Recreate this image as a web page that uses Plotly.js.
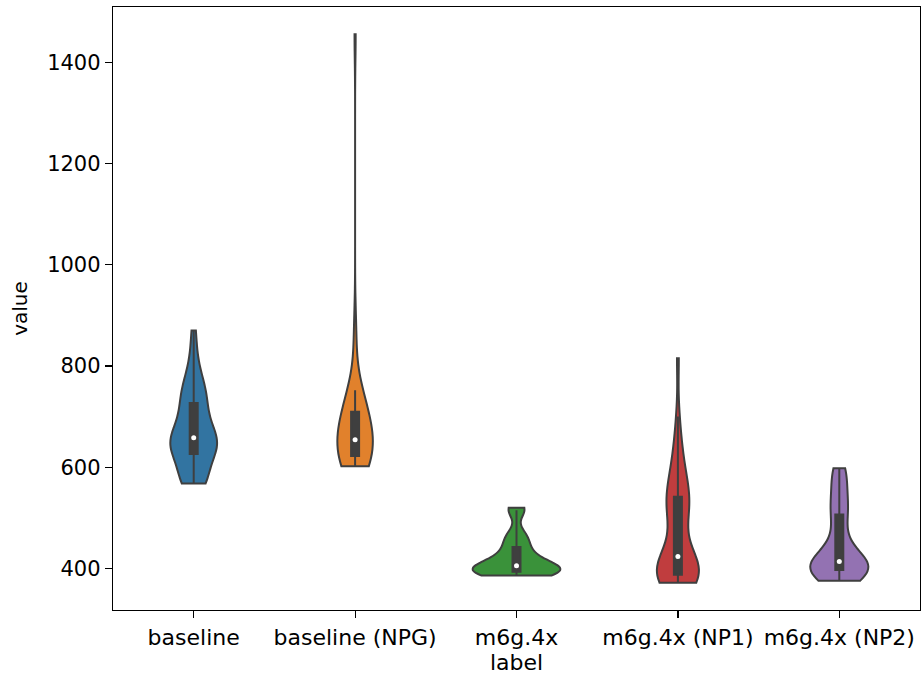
<!DOCTYPE html>
<html><head><meta charset="utf-8">
<script src="https://cdn.plot.ly/plotly-3.0.1.min.js"></script>
<style>html,body{margin:0;padding:0;background:#fff}</style>
</head><body>
<div id="chart" style="width:923px;height:678px"></div>
<script>
const categories = ["baseline", "baseline (NPG)", "m6g.4x", "m6g.4x (NP1)", "m6g.4x (NP2)"];
const baseline = [568, 569, 570, 572, 575, 580, 590, 603, 615, 624, 628, 632, 635, 638, 641, 644, 647, 650, 653, 656,
  660, 664, 669, 675, 682, 690, 698, 706, 715, 724, 730, 738, 745, 752, 760, 770, 782, 800, 830, 870];
const baselineNPG = [602, 602, 602, 603, 603, 604, 605, 606, 608, 611, 615, 620, 624, 628, 632, 636, 640, 643, 646, 648,
  650, 651, 652, 653, 656, 660, 665, 670, 675, 680, 685, 690, 695, 700, 704, 707, 712, 718, 724, 730,
  736, 742, 745, 748, 752, 845, 875, 1455];
const m6g = [386, 387, 388, 389, 389, 390, 390, 391, 391, 392, 392, 393, 394, 395, 396, 397, 398, 399, 400, 401,
  402, 403, 404, 405, 406, 408, 410, 412, 414, 417, 420, 424, 428, 432, 436, 440, 445, 450, 456, 460,
  464, 468, 472, 513, 515, 517, 519, 520];
const m6gNP1 = [372, 374, 376, 377, 378, 379, 380, 381, 382, 383, 385, 386, 389, 392, 395, 398, 401, 404, 407, 410,
  413, 416, 419, 422, 425, 455, 472, 486, 497, 506, 514, 520, 526, 531, 535, 538, 545, 553, 561, 570,
  580, 592, 605, 620, 638, 660, 700, 815];
const m6gNP2 = [376, 378, 380, 383, 386, 388, 390, 392, 394, 396, 398, 400, 402, 404, 406, 408, 410, 411, 412, 413,
  415, 418, 422, 428, 436, 446, 458, 472, 487, 503, 510, 518, 526, 536, 548, 562, 576, 588, 594, 598];
const yTicks = [400, 600, 800, 1000, 1200, 1400];

const series = [baseline, baselineNPG, m6g, m6gNP1, m6gNP2];
const colors = ["#3274a1", "#e1812c", "#3a923a", "#c03d3e", "#9372b2"];
const violinWidths = [0.29, 0.22, 0.54, 0.26, 0.36];
const bwScale = 0.85;
const gray = "#3f3f3f";
const catPx = 807 / 5;

function sd(a) {
  const m = a.reduce((s, v) => s + v, 0) / a.length;
  return Math.sqrt(a.reduce((s, v) => s + (v - m) * (v - m), 0) / (a.length - 1));
}
function median(a) {
  const s = a.slice().sort((p, q) => p - q);
  const pos = (s.length - 1) / 2, lo = Math.floor(pos);
  return s[lo] + (s[Math.ceil(pos)] - s[lo]) * (pos - lo);
}

const traces = series.map((vals, i) => ({
  type: 'violin',
  x: vals.map(() => categories[i]),
  y: vals,
  name: categories[i],
  spanmode: 'hard',
  points: false,
  width: violinWidths[i],
  scalemode: 'width',
  bandwidth: bwScale * sd(vals) * Math.pow(vals.length, -0.2),
  fillcolor: colors[i],
  opacity: 1,
  line: {color: gray, width: 2},
  box: {visible: true, width: 8 / (violinWidths[i] * catPx), fillcolor: gray, line: {color: gray, width: 2}},
  meanline: {visible: false},
  hoverinfo: 'skip',
  showlegend: false
}));
traces.push({
  type: 'scatter', mode: 'markers',
  x: categories, y: series.map(median),
  marker: {color: 'white', size: 5, line: {width: 0}},
  hoverinfo: 'skip', showlegend: false
});

const xFont = {family: 'DejaVu Sans, sans-serif', size: 22, color: '#000'};
const yTickFont = {family: 'DejaVu Sans, sans-serif', size: 21, color: '#000'};
const yTitleFont = {family: 'DejaVu Sans, sans-serif', size: 20, color: '#000'};
const layout = {
  width: 923, height: 678,
  margin: {l: 113, r: 3, t: 7, b: 68},
  paper_bgcolor: '#fff', plot_bgcolor: '#fff',
  font: yTitleFont,
  violinmode: 'overlay',
  showlegend: false,
  xaxis: {
    type: 'category', categoryarray: categories, range: [-0.5, 4.5],
    showline: true, mirror: true, linecolor: '#000', linewidth: 1.2,
    ticks: 'outside', ticklen: 7, tickwidth: 1.2, tickcolor: '#000',
    showgrid: false, zeroline: false, tickfont: xFont,
    title: {text: 'label', font: xFont, standoff: 0}
  },
  yaxis: {
    range: [318, 1509], tickvals: yTicks, ticktext: yTicks.map(String),
    showline: true, mirror: true, linecolor: '#000', linewidth: 1.2,
    ticks: 'outside', ticklen: 7, tickwidth: 1.2, tickcolor: '#000',
    showgrid: false, zeroline: false, tickfont: yTickFont,
    title: {text: 'value', font: yTitleFont, standoff: 14}
  }
};
Plotly.newPlot('chart', traces, layout, {staticPlot: true, displayModeBar: false});
</script>
</body></html>
